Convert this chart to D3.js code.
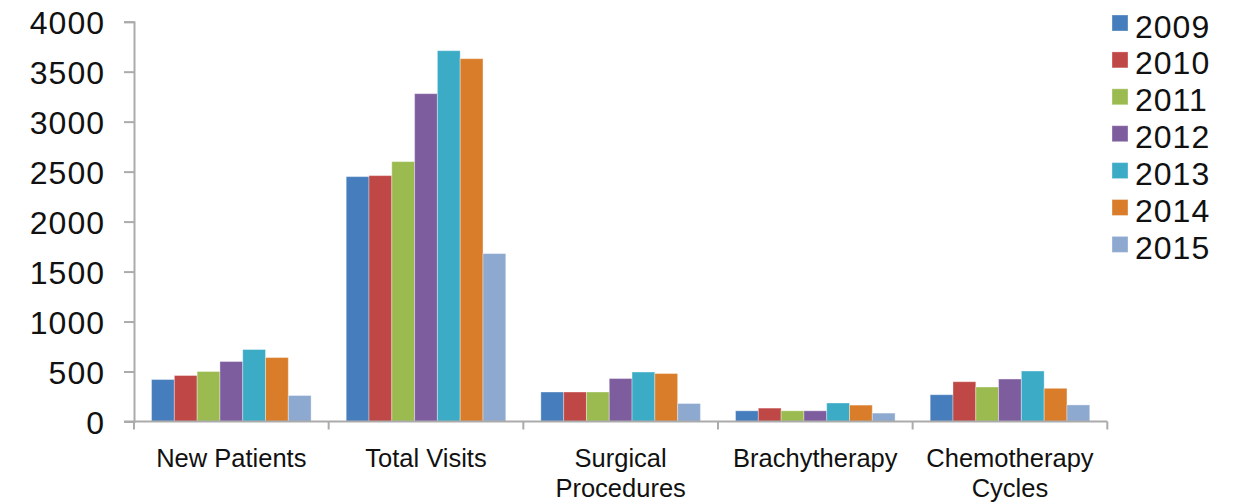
<!DOCTYPE html>
<html>
<head>
<meta charset="utf-8">
<script src="https://cdn.jsdelivr.net/npm/d3@7"></script>
<style>
  html, body { margin: 0; padding: 0; background: #fff; }
  svg { display: block; font-family: "Liberation Sans", Arial, sans-serif; }
</style>
</head>
<body>
<svg id="chart" width="1241" height="504"></svg>
<script>
// Categories and their label lines
const categories = ["New Patients", "Total Visits", "Surgical Procedures", "Brachytherapy", "Chemotherapy Cycles"];
const categoryLines = [["New Patients"], ["Total Visits"], ["Surgical", "Procedures"], ["Brachytherapy"], ["Chemotherapy", "Cycles"]];
const years = ["2009", "2010", "2011", "2012", "2013", "2014", "2015"];

// One array per year, values in category order
const v2009 = [420, 2450, 295, 107, 268];
const v2010 = [460, 2460, 295, 134, 398];
const v2011 = [500, 2600, 295, 107, 345];
const v2012 = [600, 3280, 430, 107, 425];
const v2013 = [720, 3710, 495, 185, 505];
const v2014 = [640, 3630, 480, 164, 332];
const v2015 = [260, 1680, 180, 84, 166];
const seriesValues = [v2009, v2010, v2011, v2012, v2013, v2014, v2015];

const yTicks = [0, 500, 1000, 1500, 2000, 2500, 3000, 3500, 4000];
const colors = ["#467dbc", "#bf4745", "#9bbb50", "#7e5d9f", "#3cabc6", "#d97d2a", "#8ea9cf"];

const svg = d3.select("#chart");
const plotLeft = 134, plotRight = 1107.3, plotTop = 21.7, plotBottom = 421.5;

const x = d3.scaleBand().domain(categories).range([plotLeft, plotRight]).paddingInner(0).paddingOuter(0);
const inner = d3.scaleBand().domain(years).range([0, x.bandwidth()]).paddingInner(0).paddingOuter(0.77);
const y = d3.scaleLinear().domain([0, 4000]).range([plotBottom, plotTop]);

// Bars
const groups = svg.append("g").selectAll("g")
  .data(categories)
  .join("g")
  .attr("transform", c => `translate(${x(c)},0)`);

groups.selectAll("rect")
  .data((c, ci) => years.map((yr, si) => ({ yr, si, v: seriesValues[si][ci] })))
  .join("rect")
  .attr("x", d => inner(d.yr))
  .attr("y", d => y(d.v))
  .attr("width", inner.bandwidth())
  .attr("height", d => plotBottom - y(d.v))
  .attr("fill", d => colors[d.si])
  .attr("stroke", "rgba(255,255,255,0.35)")
  .attr("stroke-width", 1);

// Y axis
const yAxis = d3.axisLeft(y).tickValues(yTicks).tickSize(10).tickPadding(19).tickFormat(d3.format("d"));
const gy = svg.append("g").attr("transform", `translate(${plotLeft},0)`).call(yAxis);
gy.select(".domain").attr("stroke", "#ababab").attr("stroke-width", 2);
gy.selectAll(".tick line").attr("stroke", "#ababab").attr("stroke-width", 2);
gy.selectAll(".tick text")
  .attr("fill", "#111")
  .attr("font-size", 32)
  .attr("letter-spacing", 1)
  .attr("dy", "0.36em");

// X axis baseline with separators between categories
const gx = svg.append("g");
gx.append("line")
  .attr("x1", plotLeft - 10).attr("x2", plotRight)
  .attr("y1", plotBottom).attr("y2", plotBottom)
  .attr("stroke", "#ababab").attr("stroke-width", 2);
const boundaries = categories.map(c => x(c)).concat([x(categories[categories.length - 1]) + x.bandwidth()]);
gx.selectAll("line.sep")
  .data(boundaries)
  .join("line")
  .attr("class", "sep")
  .attr("x1", d => d).attr("x2", d => d)
  .attr("y1", plotBottom).attr("y2", plotBottom + 8)
  .attr("stroke", "#ababab").attr("stroke-width", 2);

// Category labels
const labels = svg.append("g").selectAll("text")
  .data(categories)
  .join("text")
  .attr("x", c => x(c) + x.bandwidth() / 2)
  .attr("y", 467)
  .attr("text-anchor", "middle")
  .attr("font-size", 25.5)
  .attr("fill", "#111");
labels.each(function (c, i) {
  d3.select(this).selectAll("tspan")
    .data(categoryLines[i])
    .join("tspan")
    .attr("x", x(c) + x.bandwidth() / 2)
    .attr("dy", (d, j) => j === 0 ? 0 : 30)
    .text(d => d);
});

// Legend
const legend = svg.append("g").selectAll("g")
  .data(years)
  .join("g")
  .attr("transform", (d, i) => `translate(1112,${15 + i * 36.9})`);
legend.append("rect")
  .attr("width", 16).attr("height", 16)
  .attr("fill", (d, i) => colors[i])
  .attr("stroke", "rgba(255,255,255,0.35)");
legend.append("text")
  .attr("x", 23).attr("y", 22.5)
  .attr("font-size", 32)
  .attr("letter-spacing", 1)
  .attr("fill", "#111")
  .text(d => d);
</script>
</body>
</html>
